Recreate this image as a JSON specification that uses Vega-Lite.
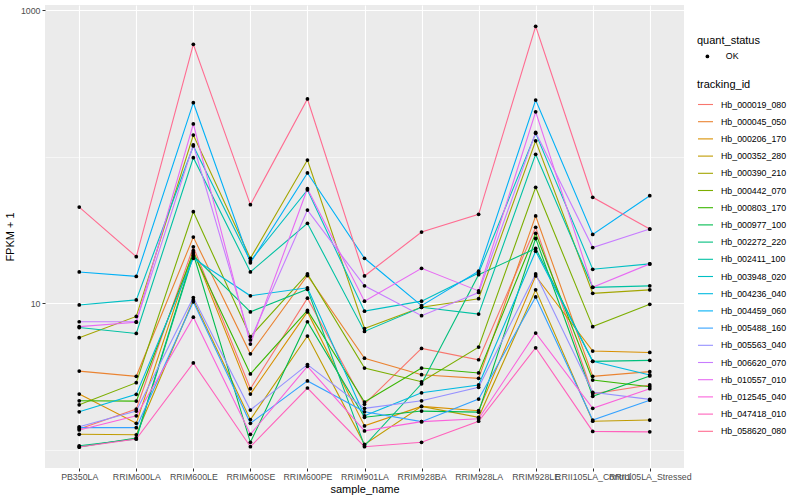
{
"$schema": "https://vega.github.io/schema/vega-lite/v6.json",
"width": 639, "height": 463,
"autosize": {"type": "none"},
"padding": {"left": 45, "top": 5, "right": 116, "bottom": 32},
"config": {
 "font": "Liberation Sans",
 "view": {"fill": "#EBEBEB", "stroke": null},
 "axis": {"domain": false, "grid": true, "gridColor": "#FFFFFF", "gridWidth": 1.1, "tickColor": "#333333", "tickSize": 3, "tickWidth": 1, "labelColor": "#4D4D4D", "labelFontSize": 8.8, "labelPadding": 2, "titleColor": "#000000", "titleFontSize": 11, "titleFontWeight": "normal"},
 "legend": {"titleFontSize": 11, "titleFontWeight": "normal", "titleColor": "#000000", "labelFontSize": 8.8, "labelColor": "#000000", "padding": 0}
},
"datasets": {"expr": [
{"id":"Hb_000019_080","sample_name":"PB350LA","fpkm":1.38,"quant_status":"OK"},
{"id":"Hb_000019_080","sample_name":"RRIM600LA","fpkm":1.89,"quant_status":"OK"},
{"id":"Hb_000019_080","sample_name":"RRIM600LE","fpkm":24.2,"quant_status":"OK"},
{"id":"Hb_000019_080","sample_name":"RRIM600SE","fpkm":2.6,"quant_status":"OK"},
{"id":"Hb_000019_080","sample_name":"RRIM600PE","fpkm":10.8,"quant_status":"OK"},
{"id":"Hb_000019_080","sample_name":"RRIM901LA","fpkm":2.04,"quant_status":"OK"},
{"id":"Hb_000019_080","sample_name":"RRIM928BA","fpkm":4.9,"quant_status":"OK"},
{"id":"Hb_000019_080","sample_name":"RRIM928LA","fpkm":4.1,"quant_status":"OK"},
{"id":"Hb_000019_080","sample_name":"RRIM928LE","fpkm":32.9,"quant_status":"OK"},
{"id":"Hb_000019_080","sample_name":"RRII105LA_Control","fpkm":2.4,"quant_status":"OK"},
{"id":"Hb_000019_080","sample_name":"RRII105LA_Stressed","fpkm":2.76,"quant_status":"OK"},
{"id":"Hb_000045_050","sample_name":"PB350LA","fpkm":3.43,"quant_status":"OK"},
{"id":"Hb_000045_050","sample_name":"RRIM600LA","fpkm":3.16,"quant_status":"OK"},
{"id":"Hb_000045_050","sample_name":"RRIM600LE","fpkm":28.2,"quant_status":"OK"},
{"id":"Hb_000045_050","sample_name":"RRIM600SE","fpkm":4.5,"quant_status":"OK"},
{"id":"Hb_000045_050","sample_name":"RRIM600PE","fpkm":15.4,"quant_status":"OK"},
{"id":"Hb_000045_050","sample_name":"RRIM901LA","fpkm":4.2,"quant_status":"OK"},
{"id":"Hb_000045_050","sample_name":"RRIM928BA","fpkm":3.24,"quant_status":"OK"},
{"id":"Hb_000045_050","sample_name":"RRIM928LA","fpkm":3.06,"quant_status":"OK"},
{"id":"Hb_000045_050","sample_name":"RRIM928LE","fpkm":39.3,"quant_status":"OK"},
{"id":"Hb_000045_050","sample_name":"RRII105LA_Control","fpkm":3.16,"quant_status":"OK"},
{"id":"Hb_000045_050","sample_name":"RRII105LA_Stressed","fpkm":3.4,"quant_status":"OK"},
{"id":"Hb_000206_170","sample_name":"PB350LA","fpkm":2.39,"quant_status":"OK"},
{"id":"Hb_000206_170","sample_name":"RRIM600LA","fpkm":1.51,"quant_status":"OK"},
{"id":"Hb_000206_170","sample_name":"RRIM600LE","fpkm":22.75,"quant_status":"OK"},
{"id":"Hb_000206_170","sample_name":"RRIM600SE","fpkm":2.39,"quant_status":"OK"},
{"id":"Hb_000206_170","sample_name":"RRIM600PE","fpkm":8.7,"quant_status":"OK"},
{"id":"Hb_000206_170","sample_name":"RRIM901LA","fpkm":1.45,"quant_status":"OK"},
{"id":"Hb_000206_170","sample_name":"RRIM928BA","fpkm":1.97,"quant_status":"OK"},
{"id":"Hb_000206_170","sample_name":"RRIM928LA","fpkm":1.84,"quant_status":"OK"},
{"id":"Hb_000206_170","sample_name":"RRIM928LE","fpkm":15.3,"quant_status":"OK"},
{"id":"Hb_000206_170","sample_name":"RRII105LA_Control","fpkm":4.7,"quant_status":"OK"},
{"id":"Hb_000206_170","sample_name":"RRII105LA_Stressed","fpkm":4.6,"quant_status":"OK"},
{"id":"Hb_000352_280","sample_name":"PB350LA","fpkm":1.27,"quant_status":"OK"},
{"id":"Hb_000352_280","sample_name":"RRIM600LA","fpkm":1.26,"quant_status":"OK"},
{"id":"Hb_000352_280","sample_name":"RRIM600LE","fpkm":10.5,"quant_status":"OK"},
{"id":"Hb_000352_280","sample_name":"RRIM600SE","fpkm":1.6,"quant_status":"OK"},
{"id":"Hb_000352_280","sample_name":"RRIM600PE","fpkm":5.95,"quant_status":"OK"},
{"id":"Hb_000352_280","sample_name":"RRIM901LA","fpkm":1.085,"quant_status":"OK"},
{"id":"Hb_000352_280","sample_name":"RRIM928BA","fpkm":1.97,"quant_status":"OK"},
{"id":"Hb_000352_280","sample_name":"RRIM928LA","fpkm":1.66,"quant_status":"OK"},
{"id":"Hb_000352_280","sample_name":"RRIM928LE","fpkm":12.3,"quant_status":"OK"},
{"id":"Hb_000352_280","sample_name":"RRII105LA_Control","fpkm":1.56,"quant_status":"OK"},
{"id":"Hb_000352_280","sample_name":"RRII105LA_Stressed","fpkm":1.59,"quant_status":"OK"},
{"id":"Hb_000390_210","sample_name":"PB350LA","fpkm":5.8,"quant_status":"OK"},
{"id":"Hb_000390_210","sample_name":"RRIM600LA","fpkm":8.1,"quant_status":"OK"},
{"id":"Hb_000390_210","sample_name":"RRIM600LE","fpkm":140,"quant_status":"OK"},
{"id":"Hb_000390_210","sample_name":"RRIM600SE","fpkm":20.2,"quant_status":"OK"},
{"id":"Hb_000390_210","sample_name":"RRIM600PE","fpkm":94.6,"quant_status":"OK"},
{"id":"Hb_000390_210","sample_name":"RRIM901LA","fpkm":6.7,"quant_status":"OK"},
{"id":"Hb_000390_210","sample_name":"RRIM928BA","fpkm":9.35,"quant_status":"OK"},
{"id":"Hb_000390_210","sample_name":"RRIM928LA","fpkm":10.7,"quant_status":"OK"},
{"id":"Hb_000390_210","sample_name":"RRIM928LE","fpkm":128,"quant_status":"OK"},
{"id":"Hb_000390_210","sample_name":"RRII105LA_Control","fpkm":11.65,"quant_status":"OK"},
{"id":"Hb_000390_210","sample_name":"RRII105LA_Stressed","fpkm":12.3,"quant_status":"OK"},
{"id":"Hb_000442_070","sample_name":"PB350LA","fpkm":2.02,"quant_status":"OK"},
{"id":"Hb_000442_070","sample_name":"RRIM600LA","fpkm":2.86,"quant_status":"OK"},
{"id":"Hb_000442_070","sample_name":"RRIM600LE","fpkm":42.0,"quant_status":"OK"},
{"id":"Hb_000442_070","sample_name":"RRIM600SE","fpkm":5.9,"quant_status":"OK"},
{"id":"Hb_000442_070","sample_name":"RRIM600PE","fpkm":15.8,"quant_status":"OK"},
{"id":"Hb_000442_070","sample_name":"RRIM901LA","fpkm":3.6,"quant_status":"OK"},
{"id":"Hb_000442_070","sample_name":"RRIM928BA","fpkm":2.9,"quant_status":"OK"},
{"id":"Hb_000442_070","sample_name":"RRIM928LA","fpkm":5.0,"quant_status":"OK"},
{"id":"Hb_000442_070","sample_name":"RRIM928LE","fpkm":61.6,"quant_status":"OK"},
{"id":"Hb_000442_070","sample_name":"RRII105LA_Control","fpkm":6.9,"quant_status":"OK"},
{"id":"Hb_000442_070","sample_name":"RRII105LA_Stressed","fpkm":9.8,"quant_status":"OK"},
{"id":"Hb_000803_170","sample_name":"PB350LA","fpkm":2.15,"quant_status":"OK"},
{"id":"Hb_000803_170","sample_name":"RRIM600LA","fpkm":2.14,"quant_status":"OK"},
{"id":"Hb_000803_170","sample_name":"RRIM600LE","fpkm":22.0,"quant_status":"OK"},
{"id":"Hb_000803_170","sample_name":"RRIM600SE","fpkm":3.28,"quant_status":"OK"},
{"id":"Hb_000803_170","sample_name":"RRIM600PE","fpkm":8.9,"quant_status":"OK"},
{"id":"Hb_000803_170","sample_name":"RRIM901LA","fpkm":2.11,"quant_status":"OK"},
{"id":"Hb_000803_170","sample_name":"RRIM928BA","fpkm":3.6,"quant_status":"OK"},
{"id":"Hb_000803_170","sample_name":"RRIM928LA","fpkm":3.33,"quant_status":"OK"},
{"id":"Hb_000803_170","sample_name":"RRIM928LE","fpkm":29.9,"quant_status":"OK"},
{"id":"Hb_000803_170","sample_name":"RRII105LA_Control","fpkm":2.98,"quant_status":"OK"},
{"id":"Hb_000803_170","sample_name":"RRII105LA_Stressed","fpkm":2.68,"quant_status":"OK"},
{"id":"Hb_000977_100","sample_name":"PB350LA","fpkm":1.04,"quant_status":"OK"},
{"id":"Hb_000977_100","sample_name":"RRIM600LA","fpkm":1.2,"quant_status":"OK"},
{"id":"Hb_000977_100","sample_name":"RRIM600LE","fpkm":21.6,"quant_status":"OK"},
{"id":"Hb_000977_100","sample_name":"RRIM600SE","fpkm":1.12,"quant_status":"OK"},
{"id":"Hb_000977_100","sample_name":"RRIM600PE","fpkm":7.45,"quant_status":"OK"},
{"id":"Hb_000977_100","sample_name":"RRIM901LA","fpkm":1.66,"quant_status":"OK"},
{"id":"Hb_000977_100","sample_name":"RRIM928BA","fpkm":1.83,"quant_status":"OK"},
{"id":"Hb_000977_100","sample_name":"RRIM928LA","fpkm":1.8,"quant_status":"OK"},
{"id":"Hb_000977_100","sample_name":"RRIM928LE","fpkm":27.6,"quant_status":"OK"},
{"id":"Hb_000977_100","sample_name":"RRII105LA_Control","fpkm":2.31,"quant_status":"OK"},
{"id":"Hb_000977_100","sample_name":"RRII105LA_Stressed","fpkm":3.18,"quant_status":"OK"},
{"id":"Hb_002272_220","sample_name":"PB350LA","fpkm":1.06,"quant_status":"OK"},
{"id":"Hb_002272_220","sample_name":"RRIM600LA","fpkm":1.18,"quant_status":"OK"},
{"id":"Hb_002272_220","sample_name":"RRIM600LE","fpkm":21.0,"quant_status":"OK"},
{"id":"Hb_002272_220","sample_name":"RRIM600SE","fpkm":8.7,"quant_status":"OK"},
{"id":"Hb_002272_220","sample_name":"RRIM600PE","fpkm":12.4,"quant_status":"OK"},
{"id":"Hb_002272_220","sample_name":"RRIM901LA","fpkm":1.06,"quant_status":"OK"},
{"id":"Hb_002272_220","sample_name":"RRIM928BA","fpkm":2.81,"quant_status":"OK"},
{"id":"Hb_002272_220","sample_name":"RRIM928LA","fpkm":15.6,"quant_status":"OK"},
{"id":"Hb_002272_220","sample_name":"RRIM928LE","fpkm":23.6,"quant_status":"OK"},
{"id":"Hb_002272_220","sample_name":"RRII105LA_Control","fpkm":4.0,"quant_status":"OK"},
{"id":"Hb_002272_220","sample_name":"RRII105LA_Stressed","fpkm":4.06,"quant_status":"OK"},
{"id":"Hb_002411_100","sample_name":"PB350LA","fpkm":6.8,"quant_status":"OK"},
{"id":"Hb_002411_100","sample_name":"RRIM600LA","fpkm":6.2,"quant_status":"OK"},
{"id":"Hb_002411_100","sample_name":"RRIM600LE","fpkm":98.1,"quant_status":"OK"},
{"id":"Hb_002411_100","sample_name":"RRIM600SE","fpkm":16.3,"quant_status":"OK"},
{"id":"Hb_002411_100","sample_name":"RRIM600PE","fpkm":35.0,"quant_status":"OK"},
{"id":"Hb_002411_100","sample_name":"RRIM901LA","fpkm":6.4,"quant_status":"OK"},
{"id":"Hb_002411_100","sample_name":"RRIM928BA","fpkm":9.35,"quant_status":"OK"},
{"id":"Hb_002411_100","sample_name":"RRIM928LA","fpkm":8.4,"quant_status":"OK"},
{"id":"Hb_002411_100","sample_name":"RRIM928LE","fpkm":103.5,"quant_status":"OK"},
{"id":"Hb_002411_100","sample_name":"RRII105LA_Control","fpkm":12.8,"quant_status":"OK"},
{"id":"Hb_002411_100","sample_name":"RRII105LA_Stressed","fpkm":13.1,"quant_status":"OK"},
{"id":"Hb_003948_020","sample_name":"PB350LA","fpkm":9.7,"quant_status":"OK"},
{"id":"Hb_003948_020","sample_name":"RRIM600LA","fpkm":10.5,"quant_status":"OK"},
{"id":"Hb_003948_020","sample_name":"RRIM600LE","fpkm":118,"quant_status":"OK"},
{"id":"Hb_003948_020","sample_name":"RRIM600SE","fpkm":19.35,"quant_status":"OK"},
{"id":"Hb_003948_020","sample_name":"RRIM600PE","fpkm":59.1,"quant_status":"OK"},
{"id":"Hb_003948_020","sample_name":"RRIM901LA","fpkm":8.8,"quant_status":"OK"},
{"id":"Hb_003948_020","sample_name":"RRIM928BA","fpkm":10.3,"quant_status":"OK"},
{"id":"Hb_003948_020","sample_name":"RRIM928LA","fpkm":16.0,"quant_status":"OK"},
{"id":"Hb_003948_020","sample_name":"RRIM928LE","fpkm":144,"quant_status":"OK"},
{"id":"Hb_003948_020","sample_name":"RRII105LA_Control","fpkm":17.0,"quant_status":"OK"},
{"id":"Hb_003948_020","sample_name":"RRII105LA_Stressed","fpkm":18.5,"quant_status":"OK"},
{"id":"Hb_004236_040","sample_name":"PB350LA","fpkm":1.81,"quant_status":"OK"},
{"id":"Hb_004236_040","sample_name":"RRIM600LA","fpkm":2.38,"quant_status":"OK"},
{"id":"Hb_004236_040","sample_name":"RRIM600LE","fpkm":20.2,"quant_status":"OK"},
{"id":"Hb_004236_040","sample_name":"RRIM600SE","fpkm":11.2,"quant_status":"OK"},
{"id":"Hb_004236_040","sample_name":"RRIM600PE","fpkm":12.7,"quant_status":"OK"},
{"id":"Hb_004236_040","sample_name":"RRIM901LA","fpkm":1.7,"quant_status":"OK"},
{"id":"Hb_004236_040","sample_name":"RRIM928BA","fpkm":2.44,"quant_status":"OK"},
{"id":"Hb_004236_040","sample_name":"RRIM928LA","fpkm":2.76,"quant_status":"OK"},
{"id":"Hb_004236_040","sample_name":"RRIM928LE","fpkm":22.6,"quant_status":"OK"},
{"id":"Hb_004236_040","sample_name":"RRII105LA_Control","fpkm":4.0,"quant_status":"OK"},
{"id":"Hb_004236_040","sample_name":"RRII105LA_Stressed","fpkm":3.23,"quant_status":"OK"},
{"id":"Hb_004459_060","sample_name":"PB350LA","fpkm":16.3,"quant_status":"OK"},
{"id":"Hb_004459_060","sample_name":"RRIM600LA","fpkm":15.2,"quant_status":"OK"},
{"id":"Hb_004459_060","sample_name":"RRIM600LE","fpkm":233,"quant_status":"OK"},
{"id":"Hb_004459_060","sample_name":"RRIM600SE","fpkm":18.8,"quant_status":"OK"},
{"id":"Hb_004459_060","sample_name":"RRIM600PE","fpkm":77.2,"quant_status":"OK"},
{"id":"Hb_004459_060","sample_name":"RRIM901LA","fpkm":20.2,"quant_status":"OK"},
{"id":"Hb_004459_060","sample_name":"RRIM928BA","fpkm":9.6,"quant_status":"OK"},
{"id":"Hb_004459_060","sample_name":"RRIM928LA","fpkm":16.5,"quant_status":"OK"},
{"id":"Hb_004459_060","sample_name":"RRIM928LE","fpkm":243,"quant_status":"OK"},
{"id":"Hb_004459_060","sample_name":"RRII105LA_Control","fpkm":29.4,"quant_status":"OK"},
{"id":"Hb_004459_060","sample_name":"RRII105LA_Stressed","fpkm":54.0,"quant_status":"OK"},
{"id":"Hb_005488_160","sample_name":"PB350LA","fpkm":1.41,"quant_status":"OK"},
{"id":"Hb_005488_160","sample_name":"RRIM600LA","fpkm":1.41,"quant_status":"OK"},
{"id":"Hb_005488_160","sample_name":"RRIM600LE","fpkm":10.2,"quant_status":"OK"},
{"id":"Hb_005488_160","sample_name":"RRIM600SE","fpkm":1.51,"quant_status":"OK"},
{"id":"Hb_005488_160","sample_name":"RRIM600PE","fpkm":2.94,"quant_status":"OK"},
{"id":"Hb_005488_160","sample_name":"RRIM901LA","fpkm":1.81,"quant_status":"OK"},
{"id":"Hb_005488_160","sample_name":"RRIM928BA","fpkm":1.55,"quant_status":"OK"},
{"id":"Hb_005488_160","sample_name":"RRIM928LA","fpkm":2.21,"quant_status":"OK"},
{"id":"Hb_005488_160","sample_name":"RRIM928LE","fpkm":11.0,"quant_status":"OK"},
{"id":"Hb_005488_160","sample_name":"RRII105LA_Control","fpkm":1.59,"quant_status":"OK"},
{"id":"Hb_005488_160","sample_name":"RRII105LA_Stressed","fpkm":2.17,"quant_status":"OK"},
{"id":"Hb_005563_040","sample_name":"PB350LA","fpkm":1.43,"quant_status":"OK"},
{"id":"Hb_005563_040","sample_name":"RRIM600LA","fpkm":1.83,"quant_status":"OK"},
{"id":"Hb_005563_040","sample_name":"RRIM600LE","fpkm":10.9,"quant_status":"OK"},
{"id":"Hb_005563_040","sample_name":"RRIM600SE","fpkm":1.86,"quant_status":"OK"},
{"id":"Hb_005563_040","sample_name":"RRIM600PE","fpkm":3.8,"quant_status":"OK"},
{"id":"Hb_005563_040","sample_name":"RRIM901LA","fpkm":1.91,"quant_status":"OK"},
{"id":"Hb_005563_040","sample_name":"RRIM928BA","fpkm":2.15,"quant_status":"OK"},
{"id":"Hb_005563_040","sample_name":"RRIM928LA","fpkm":2.66,"quant_status":"OK"},
{"id":"Hb_005563_040","sample_name":"RRIM928LE","fpkm":15.8,"quant_status":"OK"},
{"id":"Hb_005563_040","sample_name":"RRII105LA_Control","fpkm":2.46,"quant_status":"OK"},
{"id":"Hb_005563_040","sample_name":"RRII105LA_Stressed","fpkm":2.2,"quant_status":"OK"},
{"id":"Hb_006620_070","sample_name":"PB350LA","fpkm":7.45,"quant_status":"OK"},
{"id":"Hb_006620_070","sample_name":"RRIM600LA","fpkm":7.45,"quant_status":"OK"},
{"id":"Hb_006620_070","sample_name":"RRIM600LE","fpkm":120,"quant_status":"OK"},
{"id":"Hb_006620_070","sample_name":"RRIM600SE","fpkm":5.6,"quant_status":"OK"},
{"id":"Hb_006620_070","sample_name":"RRIM600PE","fpkm":43.1,"quant_status":"OK"},
{"id":"Hb_006620_070","sample_name":"RRIM901LA","fpkm":13.1,"quant_status":"OK"},
{"id":"Hb_006620_070","sample_name":"RRIM928BA","fpkm":8.2,"quant_status":"OK"},
{"id":"Hb_006620_070","sample_name":"RRIM928LA","fpkm":11.8,"quant_status":"OK"},
{"id":"Hb_006620_070","sample_name":"RRIM928LE","fpkm":146,"quant_status":"OK"},
{"id":"Hb_006620_070","sample_name":"RRII105LA_Control","fpkm":23.9,"quant_status":"OK"},
{"id":"Hb_006620_070","sample_name":"RRII105LA_Stressed","fpkm":32.0,"quant_status":"OK"},
{"id":"Hb_010557_010","sample_name":"PB350LA","fpkm":6.9,"quant_status":"OK"},
{"id":"Hb_010557_010","sample_name":"RRIM600LA","fpkm":7.4,"quant_status":"OK"},
{"id":"Hb_010557_010","sample_name":"RRIM600LE","fpkm":167,"quant_status":"OK"},
{"id":"Hb_010557_010","sample_name":"RRIM600SE","fpkm":5.25,"quant_status":"OK"},
{"id":"Hb_010557_010","sample_name":"RRIM600PE","fpkm":60.3,"quant_status":"OK"},
{"id":"Hb_010557_010","sample_name":"RRIM901LA","fpkm":10.3,"quant_status":"OK"},
{"id":"Hb_010557_010","sample_name":"RRIM928BA","fpkm":17.25,"quant_status":"OK"},
{"id":"Hb_010557_010","sample_name":"RRIM928LA","fpkm":12.1,"quant_status":"OK"},
{"id":"Hb_010557_010","sample_name":"RRIM928LE","fpkm":202,"quant_status":"OK"},
{"id":"Hb_010557_010","sample_name":"RRII105LA_Control","fpkm":12.8,"quant_status":"OK"},
{"id":"Hb_010557_010","sample_name":"RRII105LA_Stressed","fpkm":18.5,"quant_status":"OK"},
{"id":"Hb_012545_040","sample_name":"PB350LA","fpkm":1.36,"quant_status":"OK"},
{"id":"Hb_012545_040","sample_name":"RRIM600LA","fpkm":1.7,"quant_status":"OK"},
{"id":"Hb_012545_040","sample_name":"RRIM600LE","fpkm":8.0,"quant_status":"OK"},
{"id":"Hb_012545_040","sample_name":"RRIM600SE","fpkm":1.27,"quant_status":"OK"},
{"id":"Hb_012545_040","sample_name":"RRIM600PE","fpkm":3.7,"quant_status":"OK"},
{"id":"Hb_012545_040","sample_name":"RRIM901LA","fpkm":1.34,"quant_status":"OK"},
{"id":"Hb_012545_040","sample_name":"RRIM928BA","fpkm":1.55,"quant_status":"OK"},
{"id":"Hb_012545_040","sample_name":"RRIM928LA","fpkm":1.62,"quant_status":"OK"},
{"id":"Hb_012545_040","sample_name":"RRIM928LE","fpkm":6.24,"quant_status":"OK"},
{"id":"Hb_012545_040","sample_name":"RRII105LA_Control","fpkm":1.91,"quant_status":"OK"},
{"id":"Hb_012545_040","sample_name":"RRII105LA_Stressed","fpkm":2.6,"quant_status":"OK"},
{"id":"Hb_047418_010","sample_name":"PB350LA","fpkm":1.04,"quant_status":"OK"},
{"id":"Hb_047418_010","sample_name":"RRIM600LA","fpkm":1.18,"quant_status":"OK"},
{"id":"Hb_047418_010","sample_name":"RRIM600LE","fpkm":3.9,"quant_status":"OK"},
{"id":"Hb_047418_010","sample_name":"RRIM600SE","fpkm":1.045,"quant_status":"OK"},
{"id":"Hb_047418_010","sample_name":"RRIM600PE","fpkm":2.63,"quant_status":"OK"},
{"id":"Hb_047418_010","sample_name":"RRIM901LA","fpkm":1.045,"quant_status":"OK"},
{"id":"Hb_047418_010","sample_name":"RRIM928BA","fpkm":1.12,"quant_status":"OK"},
{"id":"Hb_047418_010","sample_name":"RRIM928LA","fpkm":1.56,"quant_status":"OK"},
{"id":"Hb_047418_010","sample_name":"RRIM928LE","fpkm":4.95,"quant_status":"OK"},
{"id":"Hb_047418_010","sample_name":"RRII105LA_Control","fpkm":1.33,"quant_status":"OK"},
{"id":"Hb_047418_010","sample_name":"RRII105LA_Stressed","fpkm":1.32,"quant_status":"OK"},
{"id":"Hb_058620_080","sample_name":"PB350LA","fpkm":45.2,"quant_status":"OK"},
{"id":"Hb_058620_080","sample_name":"RRIM600LA","fpkm":20.7,"quant_status":"OK"},
{"id":"Hb_058620_080","sample_name":"RRIM600LE","fpkm":583,"quant_status":"OK"},
{"id":"Hb_058620_080","sample_name":"RRIM600SE","fpkm":46.9,"quant_status":"OK"},
{"id":"Hb_058620_080","sample_name":"RRIM600PE","fpkm":247,"quant_status":"OK"},
{"id":"Hb_058620_080","sample_name":"RRIM901LA","fpkm":15.3,"quant_status":"OK"},
{"id":"Hb_058620_080","sample_name":"RRIM928BA","fpkm":30.5,"quant_status":"OK"},
{"id":"Hb_058620_080","sample_name":"RRIM928LA","fpkm":40.3,"quant_status":"OK"},
{"id":"Hb_058620_080","sample_name":"RRIM928LE","fpkm":774,"quant_status":"OK"},
{"id":"Hb_058620_080","sample_name":"RRII105LA_Control","fpkm":52.7,"quant_status":"OK"},
{"id":"Hb_058620_080","sample_name":"RRII105LA_Stressed","fpkm":32.0,"quant_status":"OK"}
]},
"data": {"name": "expr"},
"encoding": {
 "x": {"field": "sample_name", "type": "nominal",
  "sort": ["PB350LA","RRIM600LA","RRIM600LE","RRIM600SE","RRIM600PE","RRIM901LA","RRIM928BA","RRIM928LA","RRIM928LE","RRII105LA_Control","RRII105LA_Stressed"],
  "scale": {"type": "point", "padding": 0.6},
  "axis": {"title": "sample_name", "labelAngle": 0, "labelOverlap": false, "labelBound": false, "labelFlush": false, "labelPadding": 1, "titlePadding": 3}},
 "y": {"field": "fpkm", "type": "quantitative",
  "scale": {"type": "log", "domain": [0.748, 1082], "nice": false, "zero": false},
  "axis": {"title": "FPKM + 1", "values": [1, 10, 100, 1000],
   "labelExpr": "datum.value == 10 || datum.value == 1000 ? format(datum.value, 'd') : ''",
   "gridWidth": {"condition": {"test": "datum.value == 1 || datum.value == 100", "value": 0.55}, "value": 1.1},
   "tickColor": {"condition": {"test": "datum.value == 1 || datum.value == 100", "value": "transparent"}, "value": "#333333"},
   "titlePadding": 5}}
},
"layer": [
 {"mark": {"type": "line", "strokeWidth": 1.1},
  "encoding": {"color": {"field": "id", "type": "nominal",
   "scale": {"domain": ["Hb_000019_080","Hb_000045_050","Hb_000206_170","Hb_000352_280","Hb_000390_210","Hb_000442_070","Hb_000803_170","Hb_000977_100","Hb_002272_220","Hb_002411_100","Hb_003948_020","Hb_004236_040","Hb_004459_060","Hb_005488_160","Hb_005563_040","Hb_006620_070","Hb_010557_010","Hb_012545_040","Hb_047418_010","Hb_058620_080"],
    "range": ["#F8766D","#EA8331","#D89000","#C09B00","#A3A500","#7CAE00","#39B600","#00BB4E","#00BF7D","#00C1A3","#00BFC4","#00BAE0","#00B0F6","#35A2FF","#9590FF","#C77CFF","#E76BF3","#FA62DB","#FF62BC","#FF6C91"]},
   "legend": {"title": "tracking_id", "orient": "none", "legendX": 652, "legendY": 74, "symbolType": "stroke", "symbolStrokeWidth": 1.1, "symbolSize": 225, "rowPadding": 3.2, "labelOffset": 7, "titlePadding": 6}}}},
 {"mark": {"type": "point", "filled": true, "color": "#000000", "size": 14, "opacity": 1},
  "encoding": {"shape": {"field": "quant_status", "type": "nominal", "scale": {"range": ["circle"]},
   "legend": {"title": "quant_status", "orient": "none", "legendX": 652, "legendY": 30, "symbolSize": 14, "symbolFillColor": "#000000", "symbolStrokeColor": "#000000", "symbolOffset": 6, "labelOffset": 14, "titlePadding": 6}}}}
]
}
